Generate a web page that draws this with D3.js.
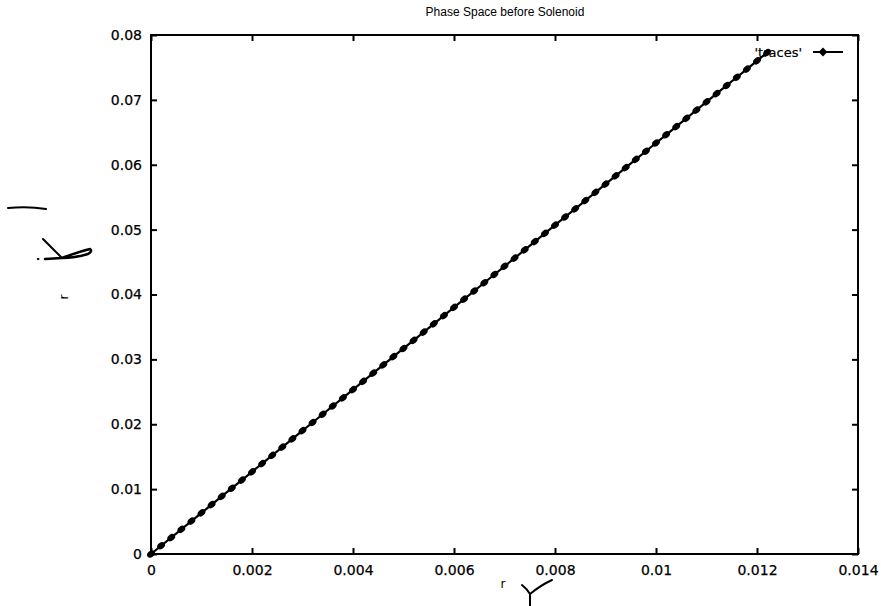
<!DOCTYPE html>
<html>
<head>
<meta charset="utf-8">
<script src="https://cdn.jsdelivr.net/npm/d3@7"></script>
<style>
  html, body { margin: 0; padding: 0; background: #fff; }
  svg { display: block; }
  text { font-family: "DejaVu Sans", "Liberation Sans", Arial, sans-serif; fill: #000; }
</style>
</head>
<body>
<svg id="chart" width="881" height="606"></svg>
<script>
const titleText = "Phase Space before Solenoid";
const seriesName = "'traces'";
const xTicks = [0, 0.002, 0.004, 0.006, 0.008, 0.01, 0.012, 0.014];
const yTicks = [0, 0.01, 0.02, 0.03, 0.04, 0.05, 0.06, 0.07, 0.08];
const xTickLabels = ["0", "0.002", "0.004", "0.006", "0.008", "0.01", "0.012", "0.014"];
const yTickLabels = ["0", "0.01", "0.02", "0.03", "0.04", "0.05", "0.06", "0.07", "0.08"];
const rValues = [0, 0.0002, 0.0004, 0.0006, 0.0008, 0.0010, 0.0012, 0.0014, 0.0016, 0.0018,
  0.0020, 0.0022, 0.0024, 0.0026, 0.0028, 0.0030, 0.0032, 0.0034, 0.0036, 0.0038,
  0.0040, 0.0042, 0.0044, 0.0046, 0.0048, 0.0050, 0.0052, 0.0054, 0.0056, 0.0058,
  0.0060, 0.0062, 0.0064, 0.0066, 0.0068, 0.0070, 0.0072, 0.0074, 0.0076, 0.0078,
  0.0080, 0.0082, 0.0084, 0.0086, 0.0088, 0.0090, 0.0092, 0.0094, 0.0096, 0.0098,
  0.0100, 0.0102, 0.0104, 0.0106, 0.0108, 0.0110, 0.0112, 0.0114, 0.0116, 0.0118,
  0.0120, 0.0122];
const rPrimeValues = [0, 0.00127, 0.00253, 0.00380, 0.00507, 0.00634, 0.00760, 0.00887, 0.01014, 0.01140,
  0.01267, 0.01394, 0.01520, 0.01647, 0.01774, 0.01901, 0.02027, 0.02154, 0.02281, 0.02407,
  0.02534, 0.02661, 0.02787, 0.02914, 0.03041, 0.03168, 0.03294, 0.03421, 0.03548, 0.03674,
  0.03801, 0.03928, 0.04054, 0.04181, 0.04308, 0.04435, 0.04561, 0.04688, 0.04815, 0.04941,
  0.05068, 0.05195, 0.05321, 0.05448, 0.05575, 0.05702, 0.05828, 0.05955, 0.06082, 0.06208,
  0.06335, 0.06462, 0.06588, 0.06715, 0.06842, 0.06969, 0.07095, 0.07222, 0.07349, 0.07475,
  0.07602, 0.07729];

const svg = d3.select("#chart");
const m = {left: 151, right: 858, top: 35, bottom: 554};
const x = d3.scaleLinear().domain([0, 0.014]).range([m.left, m.right]);
const y = d3.scaleLinear().domain([0, 0.08]).range([m.bottom, m.top]);
const tickLen = 6;

// Axes with inward ticks (gnuplot style, mirrored)
const gx = svg.append("g").attr("transform", `translate(0,${m.bottom})`)
  .call(d3.axisBottom(x).tickValues(xTicks).tickSizeInner(-tickLen).tickSizeOuter(0)
    .tickPadding(11).tickFormat((d, i) => xTickLabels[i]));
const gxTop = svg.append("g").attr("transform", `translate(0,${m.top})`)
  .call(d3.axisTop(x).tickValues(xTicks).tickSizeInner(-tickLen).tickSizeOuter(0).tickFormat(""));
const gy = svg.append("g").attr("transform", `translate(${m.left},0)`)
  .call(d3.axisLeft(y).tickValues(yTicks).tickSizeInner(-tickLen).tickSizeOuter(0)
    .tickPadding(9).tickFormat((d, i) => yTickLabels[i]));
const gyR = svg.append("g").attr("transform", `translate(${m.right},0)`)
  .call(d3.axisRight(y).tickValues(yTicks).tickSizeInner(-tickLen).tickSizeOuter(0).tickFormat(""));
[gx, gxTop, gy, gyR].forEach(g => {
  g.select(".domain").remove();
  g.selectAll(".tick line").attr("stroke", "#000").attr("stroke-width", 2);
  g.selectAll(".tick text").attr("font-size", 14)
    .style("font-family", "'DejaVu Sans', sans-serif")
    .attr("fill", "#000").attr("stroke", "#000").attr("stroke-width", 0.25);
});

// Border
svg.append("rect").attr("x", m.left).attr("y", m.top)
  .attr("width", m.right - m.left).attr("height", m.bottom - m.top)
  .attr("fill", "none").attr("stroke", "#000").attr("stroke-width", 2);

// Title
svg.append("text").attr("x", 505).attr("y", 16).attr("text-anchor", "middle")
  .style("font-family", "'Liberation Sans', Arial, sans-serif")
  .attr("font-size", 12).text(titleText);

// Data
const pts = rValues.map((v, i) => [v, rPrimeValues[i]]);
svg.append("path").datum(pts)
  .attr("d", d3.line().x(d => x(d[0])).y(d => y(d[1])))
  .attr("fill", "none").attr("stroke", "#000").attr("stroke-width", 2.2);
svg.append("g").selectAll("ellipse").data(pts).join("ellipse")
  .attr("rx", 4.3).attr("ry", 3.1)
  .attr("transform", d => `translate(${x(d[0])},${y(d[1])}) rotate(-39)`)
  .attr("fill", "#000");

// Legend
svg.append("text").attr("x", 802).attr("y", 57).attr("text-anchor", "end")
  .attr("font-size", 13).attr("stroke", "#000").attr("stroke-width", 0.2).text(seriesName);
svg.append("line").attr("x1", 813).attr("x2", 843).attr("y1", 52).attr("y2", 52)
  .attr("stroke", "#000").attr("stroke-width", 2);
svg.append("path").attr("d", d3.symbol().type(d3.symbolDiamond).size(40))
  .attr("transform", "translate(823,52) scale(1.3,0.75)").attr("fill", "#000");

// Axis labels (r, r')
svg.append("text").attr("x", 503).attr("y", 588).attr("text-anchor", "middle")
  .attr("font-size", 12).text("r");
svg.append("text").attr("transform", "translate(68,297) rotate(-90)").attr("text-anchor", "middle")
  .attr("font-size", 12).text("r");

// Handwritten marks on the scan
const hand = svg.append("g").attr("fill", "none").attr("stroke", "#000")
  .attr("stroke-linecap", "round").attr("stroke-linejoin", "round");
hand.append("path").attr("d", "M8,208 Q28,206 46,209").attr("stroke-width", 2);
hand.append("path").attr("d", "M43,239 L62,258").attr("stroke-width", 2);
hand.append("path").attr("d", "M45,259 L62,258 Q78,252 90,249 Q93,251 88,254 Q75,258 62,258").attr("stroke-width", 2.5);
hand.append("circle").attr("cx", 38).attr("cy", 259).attr("r", 0.8).attr("fill", "#000");
hand.append("path").attr("d", "M522,585 Q527,589 530,594 L530,606").attr("stroke-width", 2);
hand.append("path").attr("d", "M530,594 Q541,585 552,580").attr("stroke-width", 2);
</script>
</body>
</html>
